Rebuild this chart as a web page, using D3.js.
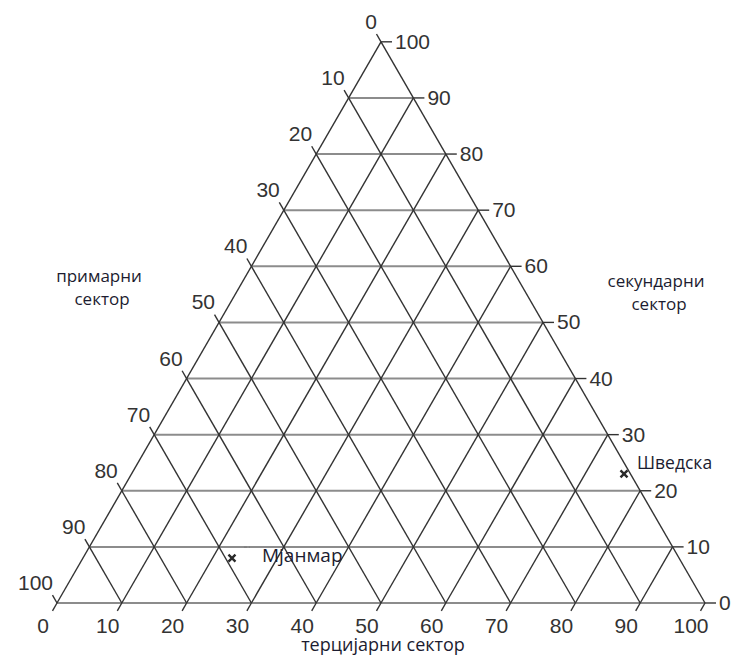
<!DOCTYPE html>
<html>
<head>
<meta charset="utf-8">
<script src="https://cdn.jsdelivr.net/npm/d3@7"></script>
<style>
  body { margin: 0; background: #fff; }
  .tick-label { font-family: "Liberation Sans", Arial, sans-serif; font-size: 21px; fill: #333; }
  .note { font-family: "Open Sans", "Noto Sans", sans-serif; font-size: 17px; fill: #1c1c30; }
</style>
</head>
<body>
<div class="canvas"></div>
<script>
// values (percent shares)
const ticks = [0, 10, 20, 30, 40, 50, 60, 70, 80, 90, 100]
const countries = ['Мјанмар', 'Шведска']
const primary = [69, 1]
const secondary = [8, 23]
const tertiary = [23, 76]
const axisTitles = [['примарни', 'сектор'], ['секундарни', 'сектор'], ['терцијарни сектор']]

const width = 732
const height = 656
const xLeft = 57, xRight = 705, yBase = 603
const side = xRight - xLeft
const yApex = yBase - side * Math.sqrt(3) / 2

const svg = d3.select('.canvas')
    .append('svg')
    .attr('width', width)
    .attr('height', height)

// x runs along the base, y is the secondary share
const x = d3.scaleLinear().domain([0, 100]).range([xLeft, xRight])
const y = d3.scaleLinear().domain([0, 100]).range([yBase, yApex])

// p + s + t = 100
const proj = (p, s, t) => [x(t + s / 2), y(s)]

const grid = svg.append('g')

// constant secondary -> horizontal, grey
grid.selectAll('line.sec')
    .data(ticks)
    .enter().append('line')
    .attr('class', 'sec')
    .each(function (v) {
        const a = proj(100 - v, v, 0), b = proj(0, v, 100 - v)
        d3.select(this).attr('x1', a[0]).attr('y1', a[1]).attr('x2', b[0]).attr('y2', b[1])
    })
    .attr('stroke', '#8c8c8c')
    .attr('stroke-width', 2)

// constant primary -> parallel to right edge
grid.selectAll('line.pri')
    .data(ticks)
    .enter().append('line')
    .attr('class', 'pri')
    .each(function (v) {
        const a = proj(v, 100 - v, 0), b = proj(v, 0, 100 - v)
        d3.select(this).attr('x1', a[0]).attr('y1', a[1]).attr('x2', b[0]).attr('y2', b[1])
    })
    .attr('stroke', '#333')
    .attr('stroke-width', 1.4)

// constant tertiary -> parallel to left edge
grid.selectAll('line.ter')
    .data(ticks)
    .enter().append('line')
    .attr('class', 'ter')
    .each(function (v) {
        const a = proj(0, 100 - v, v), b = proj(100 - v, 0, v)
        d3.select(this).attr('x1', a[0]).attr('y1', a[1]).attr('x2', b[0]).attr('y2', b[1])
    })
    .attr('stroke', '#333')
    .attr('stroke-width', 1.4)

const c = Math.cos(Math.PI / 3), s3 = Math.sin(Math.PI / 3)
const tl = 9

// left axis: primary, ticks go up-left
const leftAx = svg.append('g')
ticks.forEach(v => {
    const [px, py] = proj(v, 100 - v, 0)
    leftAx.append('line')
        .attr('x1', px).attr('y1', py)
        .attr('x2', px - tl * c).attr('y2', py - tl * s3)
        .attr('stroke', '#333').attr('stroke-width', 1.4)
    leftAx.append('text')
        .attr('class', 'tick-label')
        .attr('x', px - 4).attr('y', py - 13)
        .attr('text-anchor', 'end')
        .text(v)
})

// right axis: secondary, ticks go right
const rightAx = svg.append('g')
ticks.forEach(v => {
    const [px, py] = proj(0, v, 100 - v)
    rightAx.append('line')
        .attr('x1', px).attr('y1', py)
        .attr('x2', px + 11).attr('y2', py)
        .attr('stroke', '#333').attr('stroke-width', 1.4)
    rightAx.append('text')
        .attr('class', 'tick-label')
        .attr('x', px + 14).attr('y', py + 7)
        .text(v)
})

// bottom axis: tertiary, ticks go down-left
const bottomAx = svg.append('g')
ticks.forEach(v => {
    const [px, py] = proj(100 - v, 0, v)
    bottomAx.append('line')
        .attr('x1', px).attr('y1', py)
        .attr('x2', px - tl * c).attr('y2', py + tl * s3)
        .attr('stroke', '#333').attr('stroke-width', 1.4)
    bottomAx.append('text')
        .attr('class', 'tick-label')
        .attr('x', px - 14).attr('y', py + 30)
        .attr('text-anchor', 'middle')
        .text(v)
})

// axis titles
const titlePos = [[99, 282, 17], [656, 287, 17], [383, 651, 18]]
axisTitles.forEach((lines, i) => {
    const t = svg.append('text')
        .attr('class', 'note')
        .attr('text-anchor', 'middle')
        .style('font-size', titlePos[i][2] + 'px')
        .attr('x', titlePos[i][0]).attr('y', titlePos[i][1])
    lines.forEach((ln, j) => {
        t.append('tspan')
            .attr('x', titlePos[i][0] + (j === 0 ? 0 : 3))
            .attr('dy', j === 0 ? 0 : 23)
            .text(ln)
    })
})

// country markers
const pts = countries.map((name, i) => ({
    name, xy: proj(primary[i], secondary[i], tertiary[i])
}))
const labelOff = [[30, 4, 19], [13, -5, 17.5]]
const mk = svg.selectAll('g.country')
    .data(pts)
    .enter().append('g')
    .attr('class', 'country')
    .attr('transform', d => `translate(${d.xy[0]}, ${d.xy[1]})`)
mk.append('path')
    .attr('d', 'M-3.5,-3.5L3.5,3.5M-3.5,3.5L3.5,-3.5')
    .attr('stroke', '#2a2a2a')
    .attr('stroke-width', 2.4)
mk.append('text')
    .attr('class', 'note')
    .attr('x', (d, i) => labelOff[i][0])
    .attr('y', (d, i) => labelOff[i][1])
    .style('font-size', (d, i) => labelOff[i][2] + 'px')
    .text(d => d.name)
// small leader dots near Мјанмар
mk.filter((d, i) => i === 0).append('path')
    .attr('d', 'M12,-11h3M17,-11h1')
    .attr('stroke', '#777')
    .attr('stroke-width', 1)
</script>
</body>
</html>
